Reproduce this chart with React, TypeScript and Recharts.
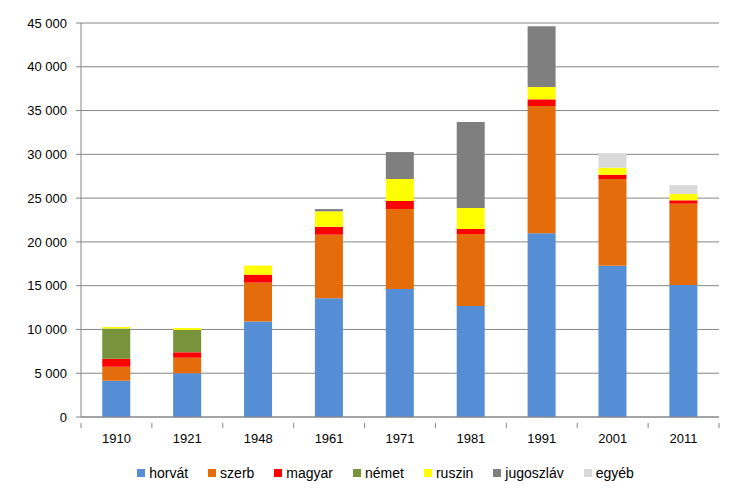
import {
  BarChart,
  Bar,
  XAxis,
  YAxis,
  CartesianGrid,
  Legend,
} from "recharts";

const years = ["1910", "1921", "1948", "1961", "1971", "1981", "1991", "2001", "2011"];

const horvat = [4150, 5000, 10900, 13550, 14620, 12680, 20980, 17280, 15080];
const szerb = [1600, 1770, 4450, 7270, 9140, 8220, 14540, 9900, 9280];
const magyar = [900, 620, 910, 910, 910, 570, 760, 490, 390];
const nemet = [3450, 2550, 0, 0, 0, 0, 0, 0, 0];
const ruszin = [180, 220, 1030, 1760, 2510, 2400, 1410, 800, 720];
const jugoszlav = [0, 0, 0, 260, 3080, 9820, 6930, 0, 0];
const egyeb = [0, 0, 0, 0, 0, 0, 0, 1680, 1030];

const yTicks = [0, 5000, 10000, 15000, 20000, 25000, 30000, 35000, 40000, 45000];

const series = [
  { key: "horvát", values: horvat, color: "#558ED5" },
  { key: "szerb", values: szerb, color: "#E46C0A" },
  { key: "magyar", values: magyar, color: "#FF0000" },
  { key: "német", values: nemet, color: "#77933C" },
  { key: "ruszin", values: ruszin, color: "#FFFF00" },
  { key: "jugoszláv", values: jugoszlav, color: "#7F7F7F" },
  { key: "egyéb", values: egyeb, color: "#D9D9D9" },
];

const data = years.map((year, i) => {
  const row: Record<string, string | number> = { year };
  series.forEach((s) => {
    row[s.key] = s.values[i];
  });
  return row;
});

const W = 743;
const H = 499;
const LEFT = 81;
const RIGHT = 24;
const band = (W - LEFT - RIGHT) / years.length;
const font = "'Liberation Sans', Arial, sans-serif";

const fmt = (v: number) => String(v).replace(/\B(?=(\d{3})+(?!\d))/g, " ");

const XTick = (props: any) => {
  const { x, y, payload } = props;
  return (
    <g>
      <line x1={x - band / 2} y1={y} x2={x - band / 2} y2={y + 5} stroke="#868686" />
      {payload.index === years.length - 1 && (
        <line x1={x + band / 2} y1={y} x2={x + band / 2} y2={y + 5} stroke="#868686" />
      )}
      <text x={x} y={y + 20} textAnchor="middle" fill="#000" fontSize={13} fontFamily={font}>
        {payload.value}
      </text>
    </g>
  );
};

// keep legend in series order, not sorted
const LegendBox = () => (
  <div
    style={{
      height: 52,
      boxSizing: "border-box",
      paddingTop: 0,
      display: "flex",
      justifyContent: "center",
      gap: 20,
      paddingLeft: 52,
      fontFamily: font,
      fontSize: 14,
      color: "#000",
    }}
  >
    {series.map((s) => (
      <div key={s.key} style={{ display: "flex", alignItems: "center", gap: 4 }}>
        <span style={{ width: 8, height: 8, background: s.color, display: "inline-block" }} />
        <span>{s.key}</span>
      </div>
    ))}
  </div>
);

export default function App() {
  return (
    <div style={{ position: "absolute", left: 0, top: 0, width: W, height: H, background: "#fff" }}>
      <BarChart
        width={W}
        height={H}
        data={data}
        margin={{ top: 23, right: RIGHT, bottom: 0, left: 0 }}
        barCategoryGap="30%"
      >
        <CartesianGrid vertical={false} stroke="#868686" />
        <XAxis
          dataKey="year"
          height={30}
          tickLine={false}
          axisLine={{ stroke: "#868686" }}
          tick={<XTick />}
          tickMargin={0}
          interval={0}
        />
        <YAxis
          width={LEFT}
          domain={[0, 45000]}
          ticks={yTicks}
          tickFormatter={fmt}
          tickSize={5}
          tickMargin={9}
          tickLine={{ stroke: "#868686" }}
          axisLine={{ stroke: "#868686" }}
          tick={{ fill: "#000", fontSize: 13, fontFamily: font }}
        />
        <Legend verticalAlign="bottom" height={52} content={<LegendBox />} />
        {series.map((s) => (
          <Bar
            key={s.key}
            dataKey={s.key}
            stackId="a"
            fill={s.color}
            isAnimationActive={false}
          />
        ))}
      </BarChart>
    </div>
  );
}
